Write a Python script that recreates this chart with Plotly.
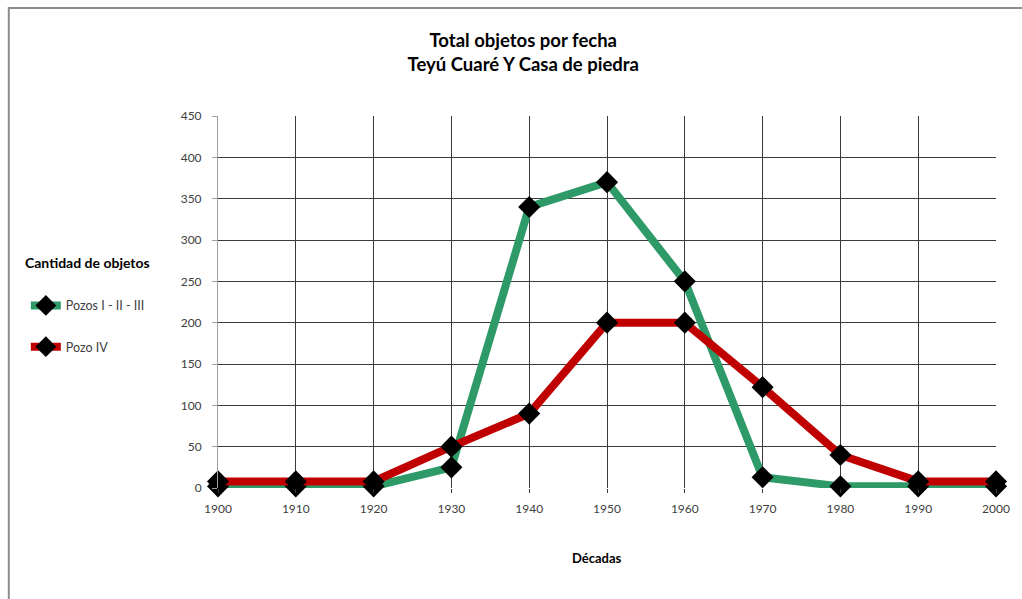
import plotly.graph_objects as go

# Décadas y cantidad de objetos por pozo
decadas = [1900, 1910, 1920, 1930, 1940, 1950, 1960, 1970, 1980, 1990, 2000]
pozos_i_ii_iii = [2, 2, 2, 25, 340, 370, 250, 13, 2, 2, 2]
pozo_iv = [8, 8, 8, 50, 90, 200, 200, 122, 40, 8, 8]

series = [
    ("Pozos I - II - III", pozos_i_ii_iii, "#2e9a68"),
    ("Pozo IV", pozo_iv, "#c00000"),
]

FONT = "Lato, 'Open Sans', sans-serif"

fig = go.Figure()
for i, (name, vals, color) in enumerate(series):
    fig.add_trace(go.Scatter(
        x=decadas, y=vals, name=name, mode="lines+markers",
        line=dict(color=color, width=8),
        marker=dict(symbol="diamond", size=17, color="black",
                    line=dict(color="black", width=0)),
        legendgroup=f"g{i}",
        cliponaxis=False,
    ))

fig.update_layout(
    width=1022, height=599,
    paper_bgcolor="white", plot_bgcolor="white",
    margin=dict(l=218, r=23, t=116, b=111),
    font=dict(family=FONT, size=12, color="#404040"),
    title=dict(
        text="<b>Total objetos por fecha</b><br><b>Teyú Cuaré Y Casa de piedra</b>",
        x=0.512, xref="container", xanchor="center",
        y=1 - 47 / 599, yref="container", yanchor="middle",
        font=dict(family=FONT, size=18.5, color="black"),
    ),
    showlegend=True,
    legend=dict(
        x=-0.247, xanchor="left", y=0.53, yanchor="top",
        traceorder="grouped", tracegroupgap=22,
        font=dict(family=FONT, size=12.5, color="#404040"),
        bgcolor="rgba(0,0,0,0)",
    ),
    xaxis=dict(
        range=[1900, 2000], tickmode="array", tickvals=decadas,
        ticktext=[str(d) for d in decadas],
        showgrid=True, gridcolor="#3a3a3a", gridwidth=1,
        zeroline=False, showline=False,
        ticks="outside", ticklen=4, tickcolor="#3a3a3a",
        ticklabelstandoff=6,
        tickfont=dict(family=FONT, size=12, color="#404040"),
    ),
    yaxis=dict(
        range=[0, 450], dtick=50,
        showgrid=True, gridcolor="#3a3a3a", gridwidth=1,
        zeroline=False, showline=True, linecolor="#a0a0a0", linewidth=1,
        ticks="outside", ticklen=5, tickcolor="#a0a0a0",
        ticklabelstandoff=8,
        tickfont=dict(family=FONT, size=12, color="#404040"),
    ),
    annotations=[
        dict(text="<b>Cantidad de objetos</b>", xref="paper", yref="paper",
             x=(22 - 218) / 781, y=(488 - 262) / 372,
             xanchor="left", yanchor="middle", showarrow=False,
             font=dict(family=FONT, size=14, color="black")),
        dict(text="<b>Décadas</b>", xref="paper", yref="paper",
             x=(598 - 218) / 781, y=-(558 - 488) / 372,
             xanchor="center", yanchor="middle", showarrow=False,
             font=dict(family=FONT, size=13, color="black")),
    ],
    shapes=[
        dict(type="rect", xref="paper", yref="paper",
             x0=-(218 - 8) / 781, x1=1.2, y0=-0.6, y1=(488 - 8) / 372,
             line=dict(color="#8c8c8c", width=2), layer="below"),
    ],
)

fig.write_html("out.html")
